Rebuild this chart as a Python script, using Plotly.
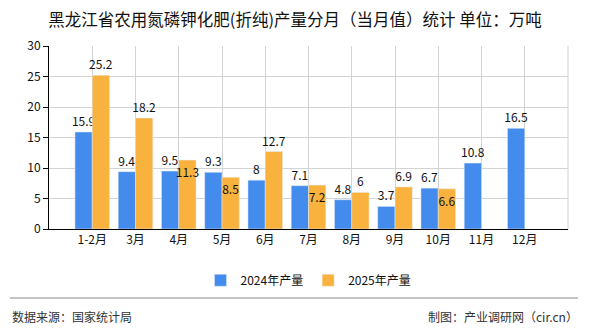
import plotly.graph_objects as go

categories = ["1-2月", "3月", "4月", "5月", "6月", "7月", "8月", "9月", "10月", "11月", "12月"]
values_2024 = [15.9, 9.4, 9.5, 9.3, 8, 7.1, 4.8, 3.7, 6.7, 10.8, 16.5]
values_2025 = [25.2, 18.2, 11.3, 8.5, 12.7, 7.2, 6, 6.9, 6.6, None, None]
label_pos_2025 = ["outside", "outside", "inside", "inside", "outside", "inside",
                  "outside", "outside", "inside", "outside", "outside"]
y_ticks = [0, 5, 10, 15, 20, 25, 30]

xs = list(range(len(categories)))
FONT = "Noto Sans CJK SC, sans-serif"

def fmt(v):
    if v is None:
        return ""
    return ("%g" % v)

fig = go.Figure()
fig.add_trace(go.Bar(
    x=xs, y=values_2024, name="2024年产量", marker_color="#438CED",
    text=[fmt(v) for v in values_2024], textposition="outside", textangle=0,
    textfont=dict(color="#111", size=12, family=FONT), constraintext="none",
    cliponaxis=False,
))
fig.add_trace(go.Bar(
    x=xs, y=values_2025, name="2025年产量", marker_color="#FAB23F",
    text=[fmt(v) for v in values_2025], textposition=label_pos_2025, textangle=0,
    insidetextanchor="end",
    textfont=dict(color="#111", size=12, family=FONT), constraintext="none",
    cliponaxis=False,
))

fig.update_layout(
    width=590, height=330,
    margin=dict(l=49, r=22, t=46, b=101),
    paper_bgcolor="white", plot_bgcolor="white",
    barmode="group", bargap=0.2, bargroupgap=0,
    font=dict(family=FONT, color="#111", size=12),
    title=dict(text="黑龙江省农用氮磷钾化肥(折纯)产量分月（当月值）统计 单位：万吨",
               x=0.5, xanchor="center", y=0.94, yanchor="middle",
               font=dict(size=16.5, color="#111", family=FONT)),
    showlegend=True,
    legend=dict(orientation="h", x=0.5, xanchor="center", y=-0.28, yanchor="middle",
                font=dict(size=12, color="#111", family=FONT),
                itemwidth=30, traceorder="normal"),
)
fig.update_xaxes(
    range=[-1, 11], tickmode="array", tickvals=xs, ticktext=categories,
    showgrid=True, gridcolor="#d3d3d3", gridwidth=1,
    showline=True, linecolor="#000", linewidth=1,
    ticks="", tickfont=dict(size=12, color="#111"), zeroline=False,
)
fig.update_yaxes(
    range=[0, 30], tickmode="array", tickvals=y_ticks,
    showgrid=True, gridcolor="#d3d3d3", gridwidth=1,
    showline=True, linecolor="#000", linewidth=1,
    ticks="outside", ticklen=5, tickcolor="#000",
    tickfont=dict(size=12, color="#111"), zeroline=False,
)
# right border of plot area
fig.add_shape(type="line", xref="paper", yref="paper", x0=1, x1=1, y0=0, y1=1,
              line=dict(color="#d3d3d3", width=1))
# footer separator
fig.add_shape(type="line", xref="paper", yref="paper",
              x0=-39/519, x1=1 + 10/519, y0=-69/183, y1=-69/183,
              line=dict(color="#888", width=1))
fig.add_annotation(text="数据来源：国家统计局", xref="paper", yref="paper",
                   x=-39/519, y=-87/183, xanchor="left", yanchor="middle",
                   showarrow=False, font=dict(size=12, color="#333", family=FONT))
fig.add_annotation(text="制图：产业调研网（cir.cn）", xref="paper", yref="paper",
                   x=1 + 12/519, y=-87/183, xanchor="right", yanchor="middle",
                   showarrow=False, font=dict(size=12, color="#333", family=FONT))

fig.write_html("out.html")
